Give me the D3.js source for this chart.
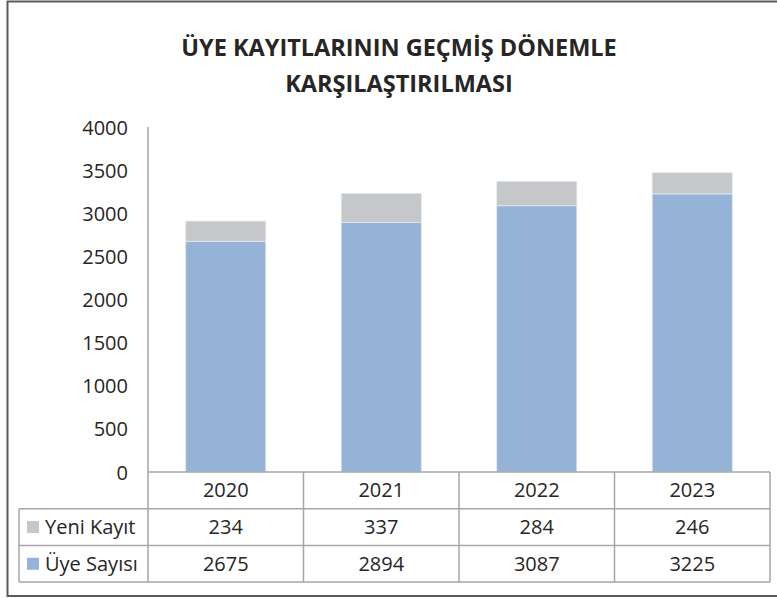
<!DOCTYPE html>
<html>
<head>
<meta charset="utf-8">
<script src="https://cdn.jsdelivr.net/npm/d3@7"></script>
<style>
  body { margin: 0; background: #fff; }
  text { font-family: "Open Sans", "Noto Sans", sans-serif; fill: #262626; }
</style>
</head>
<body>
<div id="wrapper"></div>
<script>
// chart data
const years = ["2020", "2021", "2022", "2023"];
const uyeSayisi = [2675, 2894, 3087, 3225];
const yeniKayit = [234, 337, 284, 246];
const seriesNames = ["Yeni Kayıt", "Üye Sayısı"];
const seriesColors = ["#C6C7C9", "#95B3D7"];
const yTicks = [0, 500, 1000, 1500, 2000, 2500, 3000, 3500, 4000];
const titleLines = ["ÜYE KAYITLARININ GEÇMİŞ DÖNEMLE", "KARŞILAŞTIRILMASI"];

function buildChart() {
    const dim = { width: 777, height: 598 };
    const plot = { left: 148, right: 770, top: 127, bottom: 472 };
    const rowH = 36.7;
    const tableLeft = 19;
    const gridColor = "#A6A6A6";
    const fs = "20px";

    const svg = d3.select("#wrapper").append("svg")
        .attr("width", dim.width)
        .attr("height", dim.height);

    // outer frame (right side cut off)
    svg.append("path")
        .attr("d", `M${dim.width},1.5 H7.5 V596 H${dim.width}`)
        .attr("fill", "none")
        .attr("stroke", "#5A5A5A")
        .attr("stroke-width", 2);

    // title
    svg.append("g").selectAll("text")
        .data(titleLines)
        .enter()
        .append("text")
        .attr("x", 399)
        .attr("y", (d, i) => 56 + i * 36)
        .attr("text-anchor", "middle")
        .style("font-size", "23.5px")
        .style("font-weight", "bold")
        .text(d => d);

    const x = d3.scaleBand()
        .domain(years)
        .range([plot.left, plot.right]);

    const y = d3.scaleLinear()
        .domain([0, 4000])
        .range([plot.bottom, plot.top]);

    // y axis labels
    const yAxis = d3.axisLeft(y)
        .tickValues(yTicks)
        .tickFormat(d3.format("d"))
        .tickSize(0)
        .tickPadding(20);
    const yG = svg.append("g")
        .attr("transform", `translate(${plot.left},0)`)
        .call(yAxis);
    yG.select(".domain").remove();
    yG.selectAll("text")
        .style("font-size", fs)
        .attr("dy", "0.35em");

    svg.append("line")
        .attr("x1", plot.left).attr("x2", plot.left)
        .attr("y1", plot.top).attr("y2", plot.bottom)
        .attr("stroke", gridColor)
        .attr("stroke-width", 1.5);

    // stacked bars
    const stackData = years.map((yr, i) => ({ year: yr, uye: uyeSayisi[i], yeni: yeniKayit[i] }));
    const stack = d3.stack().keys(["uye", "yeni"])(stackData);
    const barW = x.bandwidth() * 0.515;
    const colorOf = { uye: seriesColors[1], yeni: seriesColors[0] };

    svg.append("g").selectAll("g")
        .data(stack)
        .enter()
        .append("g")
        .attr("fill", d => colorOf[d.key])
        .selectAll("rect")
        .data(d => d)
        .enter()
        .append("rect")
        .attr("x", d => x(d.data.year) + (x.bandwidth() - barW) / 2)
        .attr("y", d => y(d[1]))
        .attr("width", barW)
        .attr("height", d => y(d[0]) - y(d[1]))
        .attr("stroke", "#E4E9F0")
        .attr("stroke-width", 0.8);

    // data table
    const table = svg.append("g")
        .attr("stroke", gridColor)
        .attr("stroke-width", 1.5)
        .attr("fill", "none");

    const rowY = [plot.bottom, plot.bottom + rowH, plot.bottom + 2 * rowH, plot.bottom + 3 * rowH];
    table.append("line").attr("x1", plot.left).attr("x2", plot.right).attr("y1", rowY[0]).attr("y2", rowY[0]);
    table.append("line").attr("x1", tableLeft).attr("x2", plot.right).attr("y1", rowY[1]).attr("y2", rowY[1]);
    table.append("line").attr("x1", tableLeft).attr("x2", plot.right).attr("y1", rowY[2]).attr("y2", rowY[2]);
    table.append("line").attr("x1", tableLeft).attr("x2", plot.right).attr("y1", rowY[3]).attr("y2", rowY[3]);
    table.append("line").attr("x1", tableLeft).attr("x2", tableLeft).attr("y1", rowY[1]).attr("y2", rowY[3]);
    const vLines = years.map(yr => x(yr)).concat([plot.right]);
    table.selectAll(".v")
        .data(vLines)
        .enter()
        .append("line")
        .attr("x1", d => d).attr("x2", d => d)
        .attr("y1", rowY[0]).attr("y2", rowY[3]);

    const cellText = svg.append("g")
        .attr("text-anchor", "middle")
        .style("font-size", fs);

    cellText.selectAll(".yr")
        .data(years)
        .enter()
        .append("text")
        .attr("x", d => x(d) + x.bandwidth() / 2)
        .attr("y", rowY[0] + rowH / 2)
        .attr("dy", "0.35em")
        .text(d => d);

    const rows = [yeniKayit, uyeSayisi];
    rows.forEach((vals, r) => {
        cellText.selectAll(".r" + r)
            .data(vals)
            .enter()
            .append("text")
            .attr("x", (d, i) => x(years[i]) + x.bandwidth() / 2)
            .attr("y", rowY[r + 1] + rowH / 2)
            .attr("dy", "0.35em")
            .text(d => d);
    });

    // legend keys in the table
    const leg = svg.append("g").selectAll("g")
        .data(seriesNames)
        .enter()
        .append("g")
        .attr("transform", (d, i) => `translate(27,${rowY[i + 1] + rowH / 2})`);
    leg.append("rect")
        .attr("x", 0).attr("y", -6)
        .attr("width", 12).attr("height", 12)
        .attr("fill", (d, i) => seriesColors[i]);
    leg.append("text")
        .attr("x", 18)
        .attr("dy", "0.35em")
        .style("font-size", fs)
        .text(d => d);
}

buildChart();
</script>
</body>
</html>
